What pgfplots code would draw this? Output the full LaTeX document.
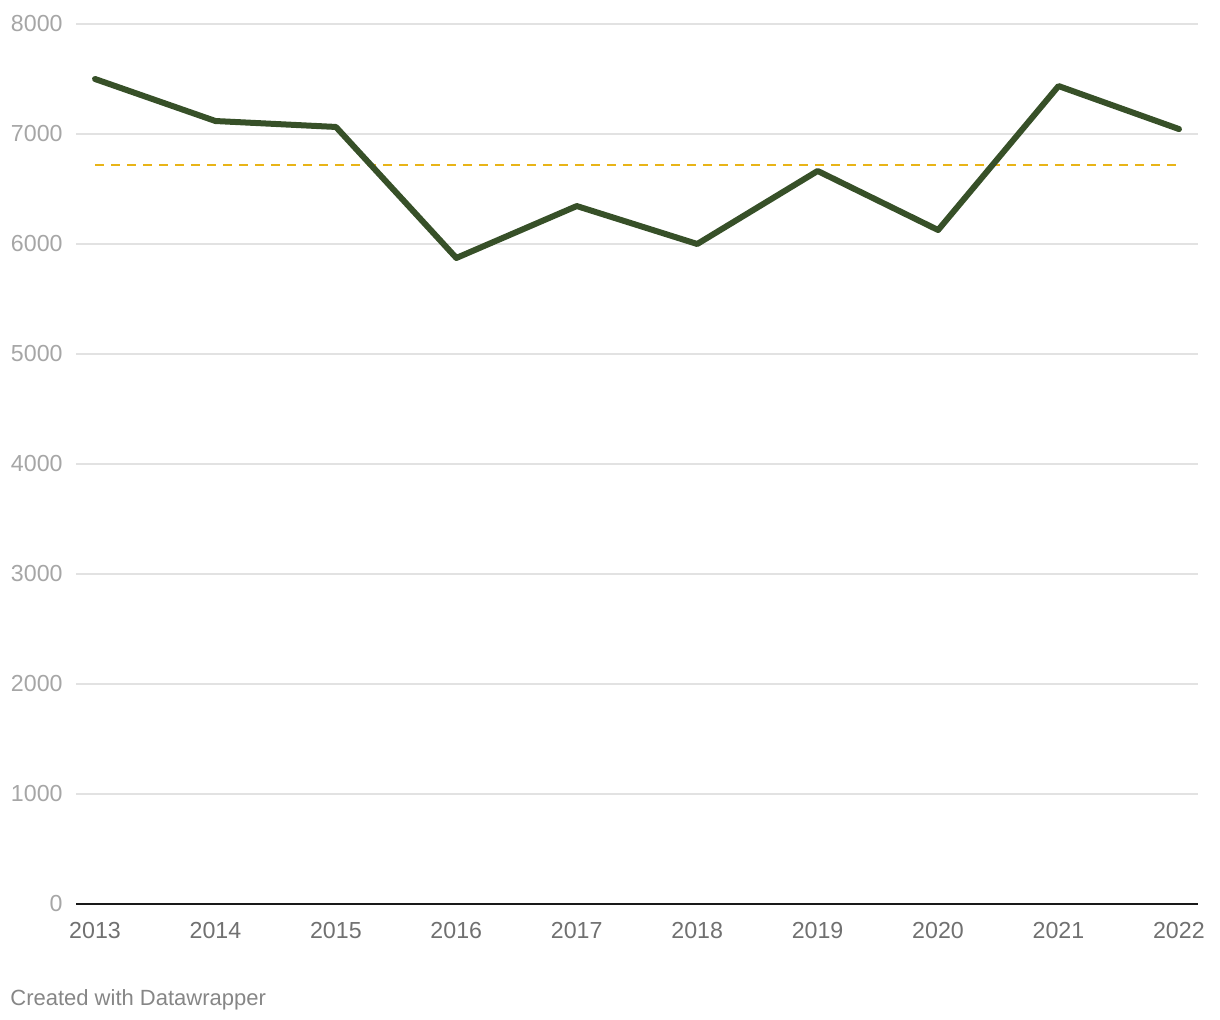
\documentclass[border=0pt]{standalone}
\usepackage{fontspec}
\setmainfont{Liberation Sans}
\usepackage{pgfplots}
\pgfplotsset{compat=1.18}
\definecolor{linegreen}{HTML}{375028}
\definecolor{avggold}{HTML}{E8B418}
\definecolor{gridgray}{HTML}{E2E2E2}
\definecolor{ylab}{HTML}{A6A6A6}
\definecolor{xlab}{HTML}{707070}
\definecolor{foot}{HTML}{868686}
\begin{document}
\begin{tikzpicture}
\useasboundingbox (-38pt,-58pt) rectangle (572pt,452pt);
\begin{axis}[
  at={(0,0)}, anchor=south west,
  width=561pt, height=440pt, scale only axis,
  xmin=2012.842, xmax=2022.158, ymin=0, ymax=8000,
  axis line style={draw=none},
  xtick={2013,2014,...,2022},
  ytick={0,1000,...,8000},
  major tick length=0pt,
  ymajorgrids, grid style={gridgray, line width=1pt},
  /pgf/number format/1000 sep={},
  /pgf/number format/assume math mode=true,
  tick label style={font=\fontsize{11.6pt}{13pt}\selectfont},
  yticklabel style={anchor=east, inner sep=0pt, xshift=-6.5pt, text=ylab},
  xticklabel style={anchor=north, inner sep=0pt, yshift=-9pt, text=xlab},
  clip=false,
]
\draw[black!90, line width=1pt] (axis cs:2012.842,0) -- (axis cs:2022.158,0);
\addplot[avggold, line width=1pt, dash pattern=on 4.5pt off 3.5pt] coordinates {(2013,6717) (2022,6717)};
\addplot[linegreen, line width=3pt, line cap=round, line join=round] coordinates {
(2013,7500) (2014,7118) (2015,7064) (2016,5873) (2017,6345)
(2018,6000) (2019,6664) (2020,6127) (2021,7436) (2022,7045)};
\end{axis}
\node[anchor=west, inner sep=0pt, text=foot, font=\fontsize{11pt}{13pt}\selectfont] at (-33pt,-48pt) {Created with Datawrapper};
\end{tikzpicture}
\end{document}
